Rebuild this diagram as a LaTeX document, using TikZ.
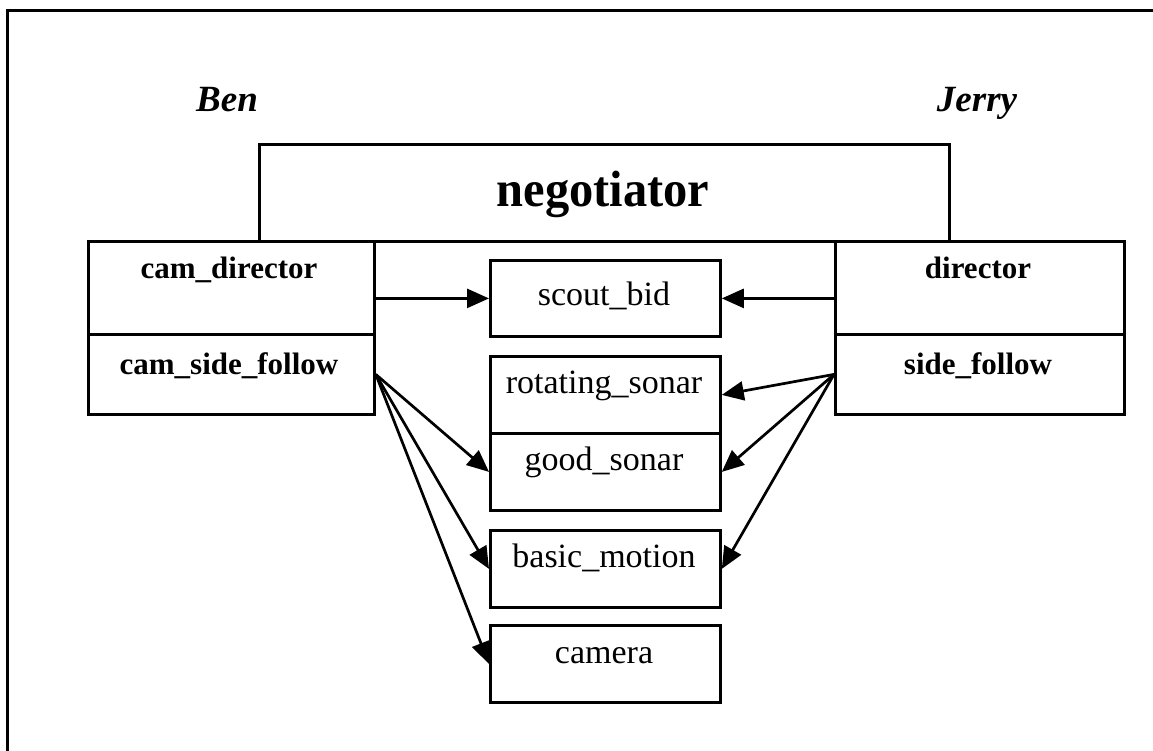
\documentclass[tikz,border=0pt]{standalone}
\usepackage{fontspec}
\setmainfont{Liberation Serif}
\usetikzlibrary{arrows.meta}
\begin{document}
\begin{tikzpicture}[x=1pt,y=-1pt,
  frame/.style={line width=3pt},
  box/.style={draw, line width=2.8pt, inner sep=0pt, anchor=north west},
  agent/.style={font=\fontsize{37}{40}\selectfont\bfseries\itshape, anchor=base, inner sep=0pt},
  title/.style={font=\fontsize{51}{56}\selectfont\bfseries, anchor=base, inner sep=0pt, xscale=0.95},
  bhv/.style={font=\fontsize{31}{34}\selectfont\bfseries, anchor=base, inner sep=0pt},
  res/.style={font=\fontsize{34}{38}\selectfont, anchor=base, inner sep=0pt},
  link/.style={line width=2.7pt, -{Triangle[length=22pt,width=19pt]}}]
\useasboundingbox (0,0) rectangle (1153,751);

% outer frame (top and left edges)
\coordinate (fbl) at (7,751);
\coordinate (ftl) at (7,11);
\coordinate (ftr) at (1153,11);
\draw[frame] (fbl) -- (ftl) -- (ftr);

% agents
\node[agent] (ben) at (227,112) {Ben};
\node[agent] (jerry) at (977,112) {Jerry};

% negotiator
\node[box, minimum width=690pt, minimum height=97pt] (neg) at (258,143) {};
\node[title] (negt) at (603,207) {negotiator};

% Ben's behaviours
\node[box, minimum width=286pt, minimum height=93pt] (cd) at (87,240) {};
\node[box, minimum width=286pt, minimum height=80pt] (csf) at (87,333) {};
\node[bhv] (cdt) at (229,279) {cam\_director};
\node[bhv] (csft) at (229,374) {cam\_side\_follow};

% Jerry's behaviours
\node[box, minimum width=289pt, minimum height=93pt] (dir) at (834,240) {};
\node[box, minimum width=289pt, minimum height=80pt] (sf) at (834,333) {};
\node[bhv] (dirt) at (978,279) {director};
\node[bhv] (sft) at (978,374) {side\_follow};

% resources
\node[box, minimum width=230pt, minimum height=76pt] (sb) at (489,259) {};
\node[res] (sbt) at (604,305) {scout\_bid};
\node[box, minimum width=230pt, minimum height=77pt] (rs) at (489,355) {};
\node[res] (rst) at (604,393) {rotating\_sonar};
\node[box, minimum width=230pt, minimum height=77pt] (gs) at (489,432) {};
\node[res] (gst) at (604,470) {good\_sonar};
\node[box, minimum width=230pt, minimum height=77pt] (bm) at (489,529) {};
\node[res] (bmt) at (604,567) {basic\_motion};
\node[box, minimum width=230pt, minimum height=77pt] (cam) at (489,624) {};
\node[res] (camt) at (604,663) {camera};

% connections
\draw[link] (cd.east |- sb.west) -- (sb.west);
\draw[link] (dir.west |- sb.east) -- (sb.east);
\draw[link] (csf.east) -- (gs.west);
\draw[link] (csf.east) -- (bm.west);
\draw[link] (csf.east) -- (cam.west);
\draw[link] (sf.west) -- (rs.east);
\draw[link] (sf.west) -- (gs.east);
\draw[link] (sf.west) -- (bm.east);
\end{tikzpicture}
\end{document}
